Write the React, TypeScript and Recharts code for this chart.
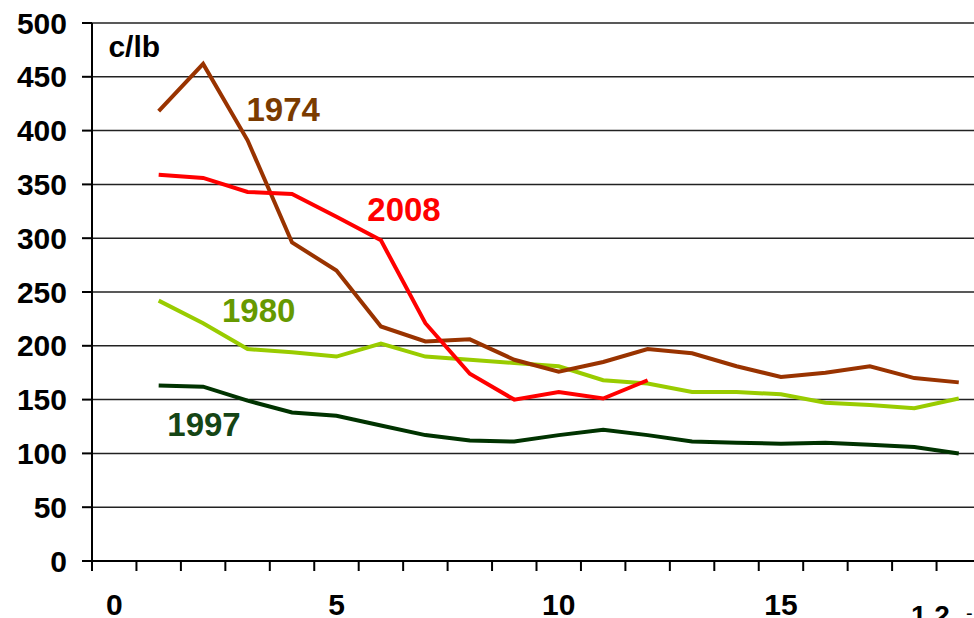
import { LineChart, Line, XAxis, YAxis, CartesianGrid, ReferenceDot } from 'recharts'

// position in the season (x) and prices in c/lb for each year
const periods = [1, 2, 3, 4, 5, 6, 7, 8, 9, 10, 11, 12, 13, 14, 15, 16, 17, 18, 19]
const y1974 = [418, 462, 391, 296, 270, 218, 204, 206, 187, 176, 185, 197, 193, 181, 171, 175, 181, 170, 166]
const y2008 = [359, 356, 343, 341, 320, 298, 221, 174, 150, 157, 151, 168]
const y1980 = [242, 221, 197, 194, 190, 202, 190, 187, 184, 181, 168, 165, 157, 157, 155, 147, 145, 142, 151]
const y1997 = [163, 162, 149, 138, 135, 126, 117, 112, 111, 117, 122, 117, 111, 110, 109, 110, 108, 106, 100]

const yTicks = [0, 50, 100, 150, 200, 250, 300, 350, 400, 450, 500]
const xTickMarks = [-0.5, 0, 0.5, 1.5, 2.5, 3.5, 4.5, 5, 5.5, 6.5, 7.5, 8.5, 9.5, 10, 10.5, 11.5, 12.5, 13.5, 14.5, 15, 15.5, 16.5, 17.5, 18.5, 19.5]
const xLabels = [0, 5, 10, 15]

// annotation text, placed in data units
const notes = [
  { text: 'c/lb', x: 0.45, y: 478, color: '#000', size: 30 },
  { text: '1974', x: 3.8, y: 420, color: '#7a3b00', size: 33 },
  { text: '2008', x: 6.52, y: 327, color: '#ff0000', size: 33 },
  { text: '1980', x: 3.25, y: 233, color: '#669900', size: 33 },
  { text: '1997', x: 2.02, y: 127, color: '#154515', size: 33 },
]

const data = periods.map((p, i) => ({
  x: p,
  y1974: y1974[i],
  y2008: i < y2008.length ? y2008[i] : null,
  y1980: y1980[i],
  y1997: y1997[i],
}))

const FONT = '"Liberation Sans", Arial, sans-serif'

function XTick({ x, y, payload }: any) {
  const v = payload.value
  const half = Math.abs(v % 1) === 0.5
  return (
    <g>
      {half && <line x1={x} y1={y} x2={x} y2={y + 10} stroke="#000" strokeWidth={2} />}
      {xLabels.includes(v) && (
        <text x={x} y={y + 54} textAnchor="middle" fontSize={30} fontWeight="bold" fontFamily={FONT} fill="#000">
          {v}
        </text>
      )}
    </g>
  )
}

export default function App() {
  return (
    <div style={{ position: 'absolute', left: 0, top: 0, width: 974, height: 618, overflow: 'hidden', background: '#fff' }}>
      <LineChart width={1000} height={618} data={data} margin={{ top: 23, right: 19, left: 0, bottom: 0 }}>
        <CartesianGrid vertical={false} stroke="#222" strokeWidth={1.5} />
        <XAxis
          dataKey="x"
          type="number"
          domain={[-0.5, 19.5]}
          ticks={xTickMarks}
          interval={0}
          height={57}
          tickSize={0}
          tickMargin={0}
          tickLine={false}
          axisLine={{ stroke: '#000', strokeWidth: 2 }}
          tick={<XTick />}
        />
        <YAxis
          type="number"
          domain={[0, 500]}
          ticks={yTicks}
          interval={0}
          width={92}
          tickSize={10}
          tickMargin={15}
          tickLine={{ stroke: '#000', strokeWidth: 2 }}
          axisLine={{ stroke: '#000', strokeWidth: 2 }}
          tick={{ fontSize: 30, fontWeight: 'bold', fontFamily: FONT, fill: '#000' }}
        />
        <Line dataKey="y1997" stroke="#003300" strokeWidth={4} dot={false} isAnimationActive={false} />
        <Line dataKey="y1980" stroke="#99cc00" strokeWidth={4} dot={false} isAnimationActive={false} />
        <Line dataKey="y1974" stroke="#993300" strokeWidth={4} dot={false} isAnimationActive={false} />
        <Line dataKey="y2008" stroke="#ff0000" strokeWidth={4} dot={false} connectNulls={false} isAnimationActive={false} />
        {notes.map((n) => (
          <ReferenceDot
            key={n.text}
            x={n.x}
            y={n.y}
            r={0}
            stroke="none"
            fill="none"
            label={{ value: n.text, position: 'center', fill: n.color, fontSize: n.size, fontWeight: 'bold', fontFamily: FONT }}
          />
        ))}
      </LineChart>
      <svg width={974} height={618} style={{ position: 'absolute', left: 0, top: 0, pointerEvents: 'none' }}>
        <text x={911} y={625} fontSize={28} fontWeight="bold" fontFamily={FONT} fill="#000">1 2</text>
        <text x={966} y={620} fontSize={20} fontFamily={FONT} fill="#000">-</text>
      </svg>
    </div>
  )
}
